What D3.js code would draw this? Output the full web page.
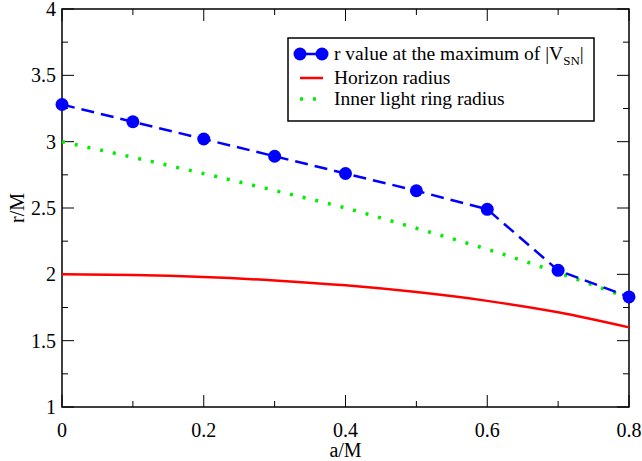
<!DOCTYPE html>
<html>
<head>
<meta charset="utf-8">
<script src="https://cdn.jsdelivr.net/npm/d3@7"></script>
<style>
  body { margin: 0; background: #fff; }
</style>
</head>
<body>
<div id="wrap"></div>
<script>
// values
var spin = [0, 0.1, 0.2, 0.3, 0.4, 0.5, 0.6, 0.7, 0.8];
var rMax = [3.28, 3.15, 3.02, 2.89, 2.76, 2.63, 2.49, 2.03, 1.83];
var horizon = [2.0, 1.995, 1.98, 1.954, 1.917, 1.866, 1.80, 1.714, 1.60];
var lightRing = [3.0, 2.882, 2.759, 2.632, 2.50, 2.347, 2.189, 2.013, 1.82];
var xTicks = [0, 0.2, 0.4, 0.6, 0.8];
var yTicks = [1, 1.5, 2, 2.5, 3, 3.5, 4];

var W = 642, H = 461;
var pLeft = 62, pRight = 629, pTop = 9, pBottom = 407;
var serif = 'Liberation Serif';

var svg = d3.select('#wrap')
  .append('svg')
  .attr('width', W)
  .attr('height', H)
  .attr('font-family', serif);

var x = d3.scaleLinear().domain([0, 0.8]).range([pLeft, pRight]);
var y = d3.scaleLinear().domain([1, 4]).range([pBottom, pTop]);

// frame
svg.append('rect')
  .attr('x', pLeft).attr('y', pTop)
  .attr('width', pRight - pLeft).attr('height', pBottom - pTop)
  .attr('fill', 'none').attr('stroke', '#000').attr('stroke-width', 1.5);

// ticks pointing inward
var xMinor = d3.range(0, 0.81, 0.1);
var yMinor = d3.range(1, 4.01, 0.25);

svg.selectAll('.xt').data(xMinor).enter().append('line')
  .attr('x1', d => x(d)).attr('x2', d => x(d))
  .attr('y1', pBottom).attr('y2', (d, i) => pBottom - (i % 2 == 0 ? 12 : 6))
  .attr('stroke', '#000').attr('stroke-width', 1);
svg.selectAll('.xt2').data(xMinor).enter().append('line')
  .attr('x1', d => x(d)).attr('x2', d => x(d))
  .attr('y1', pTop).attr('y2', (d, i) => pTop + (i % 2 == 0 ? 12 : 6))
  .attr('stroke', '#000').attr('stroke-width', 1);
svg.selectAll('.yt').data(yMinor).enter().append('line')
  .attr('y1', d => y(d)).attr('y2', d => y(d))
  .attr('x1', pLeft).attr('x2', (d, i) => pLeft + (i % 2 == 0 ? 12 : 6))
  .attr('stroke', '#000').attr('stroke-width', 1);
svg.selectAll('.yt2').data(yMinor).enter().append('line')
  .attr('y1', d => y(d)).attr('y2', d => y(d))
  .attr('x1', pRight).attr('x2', (d, i) => pRight - (i % 2 == 0 ? 12 : 6))
  .attr('stroke', '#000').attr('stroke-width', 1);

// tick labels
svg.selectAll('.xl').data(xTicks).enter().append('text')
  .attr('x', d => x(d)).attr('y', pBottom + 30)
  .attr('text-anchor', 'middle').attr('font-size', '20px')
  .text(d => d3.format('~g')(d));
svg.selectAll('.yl').data(yTicks).enter().append('text')
  .attr('x', pLeft - 6).attr('y', d => y(d) + 7)
  .attr('text-anchor', 'end').attr('font-size', '20px')
  .text(d => d3.format('~g')(d));

// axis titles
svg.append('text')
  .attr('x', (pLeft + pRight) / 2).attr('y', 457)
  .attr('text-anchor', 'middle').attr('font-size', '20px')
  .text('a/M');
svg.append('text')
  .attr('transform', 'translate(24,' + ((pTop + pBottom) / 2) + ') rotate(-90)')
  .attr('text-anchor', 'middle').attr('font-size', '20px')
  .text('r/M');

var line = d3.line().x((d, i) => x(spin[i])).y(d => y(d));

svg.append('path').datum(horizon)
  .attr('d', line.curve(d3.curveMonotoneX))
  .attr('fill', 'none').attr('stroke', '#ff0000').attr('stroke-width', 2.5);

svg.append('path').datum(lightRing)
  .attr('d', line.curve(d3.curveMonotoneX))
  .attr('fill', 'none').attr('stroke', '#00ee00').attr('stroke-width', 3.5)
  .attr('stroke-dasharray', '3,10');

svg.append('path').datum(rMax)
  .attr('d', line.curve(d3.curveLinear))
  .attr('fill', 'none').attr('stroke', '#0000ff').attr('stroke-width', 2.5)
  .attr('stroke-dasharray', '13,7');

svg.selectAll('.pt').data(rMax).enter().append('circle')
  .attr('cx', (d, i) => x(spin[i])).attr('cy', d => y(d))
  .attr('r', 6.5).attr('fill', '#0000ff');

// legend
var lg = svg.append('g');
lg.append('rect')
  .attr('x', 288).attr('y', 38).attr('width', 306).attr('height', 83)
  .attr('fill', '#fff').attr('stroke', '#000').attr('stroke-width', 1.5);

lg.append('line')
  .attr('x1', 300).attr('x2', 322).attr('y1', 54).attr('y2', 54)
  .attr('stroke', '#0000ff').attr('stroke-width', 2.5);
lg.selectAll('.lc').data([300, 322]).enter().append('circle')
  .attr('cx', d => d).attr('cy', 54).attr('r', 6.5).attr('fill', '#0000ff');
var t1 = lg.append('text').attr('x', 334).attr('y', 60).attr('font-size', '19.5px');
t1.append('tspan').text('r value at the maximum of |V');
t1.append('tspan').attr('font-size', '13px').attr('dy', 5).text('SN');
t1.append('tspan').attr('dy', -5).text('|');

lg.append('line')
  .attr('x1', 300).attr('x2', 323).attr('y1', 78).attr('y2', 78)
  .attr('stroke', '#ff0000').attr('stroke-width', 2.5);
lg.append('text').attr('x', 334).attr('y', 84).attr('font-size', '19.5px')
  .text('Horizon radius');

lg.append('line')
  .attr('x1', 300).attr('x2', 324).attr('y1', 99).attr('y2', 99)
  .attr('stroke', '#00ee00').attr('stroke-width', 3.5)
  .attr('stroke-dasharray', '3,10');
lg.append('text').attr('x', 334).attr('y', 105).attr('font-size', '19.5px')
  .text('Inner light ring radius');
</script>
</body>
</html>
